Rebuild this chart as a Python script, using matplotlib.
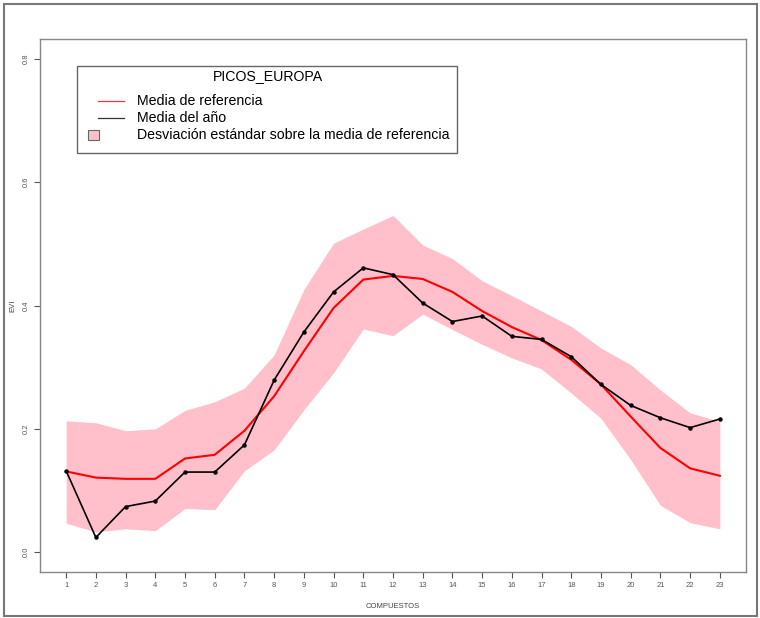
import numpy as np
import matplotlib
matplotlib.use('Agg')
import matplotlib.pyplot as plt
from matplotlib.patches import Rectangle
from matplotlib.lines import Line2D

plt.rcParams['font.family'] = ['Liberation Sans', 'DejaVu Sans']

# datos
compuestos = list(range(1, 24))
media_ref = [0.131, 0.121, 0.119, 0.119, 0.152, 0.158, 0.197, 0.253, 0.326, 0.396, 0.442, 0.448,
             0.443, 0.422, 0.391, 0.365, 0.344, 0.312, 0.272, 0.220, 0.169, 0.136, 0.124]
media_anio = [0.132, 0.024, 0.074, 0.083, 0.130, 0.130, 0.174, 0.279, 0.357, 0.422, 0.461, 0.450,
              0.404, 0.374, 0.383, 0.350, 0.345, 0.317, 0.272, 0.238, 0.218, 0.202, 0.216]
banda_sup = [0.213, 0.210, 0.197, 0.200, 0.230, 0.244, 0.266, 0.320, 0.426, 0.501, 0.524, 0.546,
             0.498, 0.476, 0.440, 0.416, 0.391, 0.366, 0.331, 0.304, 0.263, 0.226, 0.212]
banda_inf = [0.047, 0.033, 0.038, 0.035, 0.071, 0.069, 0.132, 0.166, 0.231, 0.291, 0.362, 0.351,
             0.386, 0.361, 0.337, 0.315, 0.297, 0.258, 0.217, 0.150, 0.076, 0.048, 0.038]
y_ticks = [0.0, 0.2, 0.4, 0.6, 0.8]
titulo = 'PICOS_EUROPA'
etiquetas = ['Media de referencia', 'Media del año',
             'Desviación estándar sobre la media de referencia']

W, H = 760, 618
fig = plt.figure(figsize=(W / 100, H / 100), dpi=100)
ax = fig.add_axes([40 / W, 46 / H, 706 / W, 533 / H])

ax.fill_between(compuestos, banda_inf, banda_sup, color='pink', linewidth=0)
ax.plot(compuestos, media_ref, color='red', linewidth=1.5)
ax.plot(compuestos, media_anio, color='black', linewidth=1.2, marker='o', markersize=2.2)

ax.set_xlim(1 - 22 * 0.04, 23 + 22 * 0.04)
ax.set_ylim(-0.032, 0.832)
ax.set_xticks(compuestos)
ax.set_xticklabels([str(c) for c in compuestos])
ax.set_yticks(y_ticks)
ax.set_yticklabels([f'{v:.1f}' for v in y_ticks], rotation=90, va='center')
ax.tick_params(labelsize=5.5, colors='#555555', length=4, width=0.8)
for s in ax.spines.values():
    s.set_color('#888888')
    s.set_linewidth(1.0)
ax.set_xlabel('COMPUESTOS', fontsize=5.5, color='#444444')
ax.set_ylabel('EVI', fontsize=5.5, color='#444444')
ax.xaxis.set_label_coords(0.5, -0.058)
ax.yaxis.set_label_coords(-0.034, 0.5)


# leyenda manual, en píxeles de la figura (origen arriba a la izquierda)
def px(x, y):
    return x / W, 1 - y / H


x0, y0 = px(77, 66)
x1, y1 = px(457, 153)
fig.patches.append(Rectangle((x0, y1), x1 - x0, y0 - y1, transform=fig.transFigure,
                             facecolor='white', edgecolor='#666666', linewidth=1.0, zorder=5))
fig.text(*px(268, 76), titulo, fontsize=10.2, ha='center', va='center', zorder=6)
filas = [101, 118, 135]
for fila, (color, etiqueta) in zip(filas[:2], zip(['red', 'black'], etiquetas[:2])):
    xa, ya = px(98, fila)
    xb, _ = px(124, fila)
    fig.lines.append(Line2D([xa, xb], [ya, ya], transform=fig.transFigure, color=color,
                            linewidth=0.9, alpha=0.8, zorder=6))
for fila, etiqueta in zip(filas, etiquetas):
    fig.text(*px(137, fila), etiqueta, fontsize=10.2, ha='left', va='center', zorder=6)
xs, ys = px(88, filas[2] + 5)
fig.patches.append(Rectangle((xs, ys), 11 / W, 10 / H, transform=fig.transFigure,
                             facecolor='pink', edgecolor='#666666', linewidth=0.8, zorder=6))

fig.patches.append(Rectangle((4 / W, 2 / H), 753 / W, 612 / H, transform=fig.transFigure,
                             fill=False, edgecolor='#777777', linewidth=1.5))

fig.savefig('out.png', dpi=100)
